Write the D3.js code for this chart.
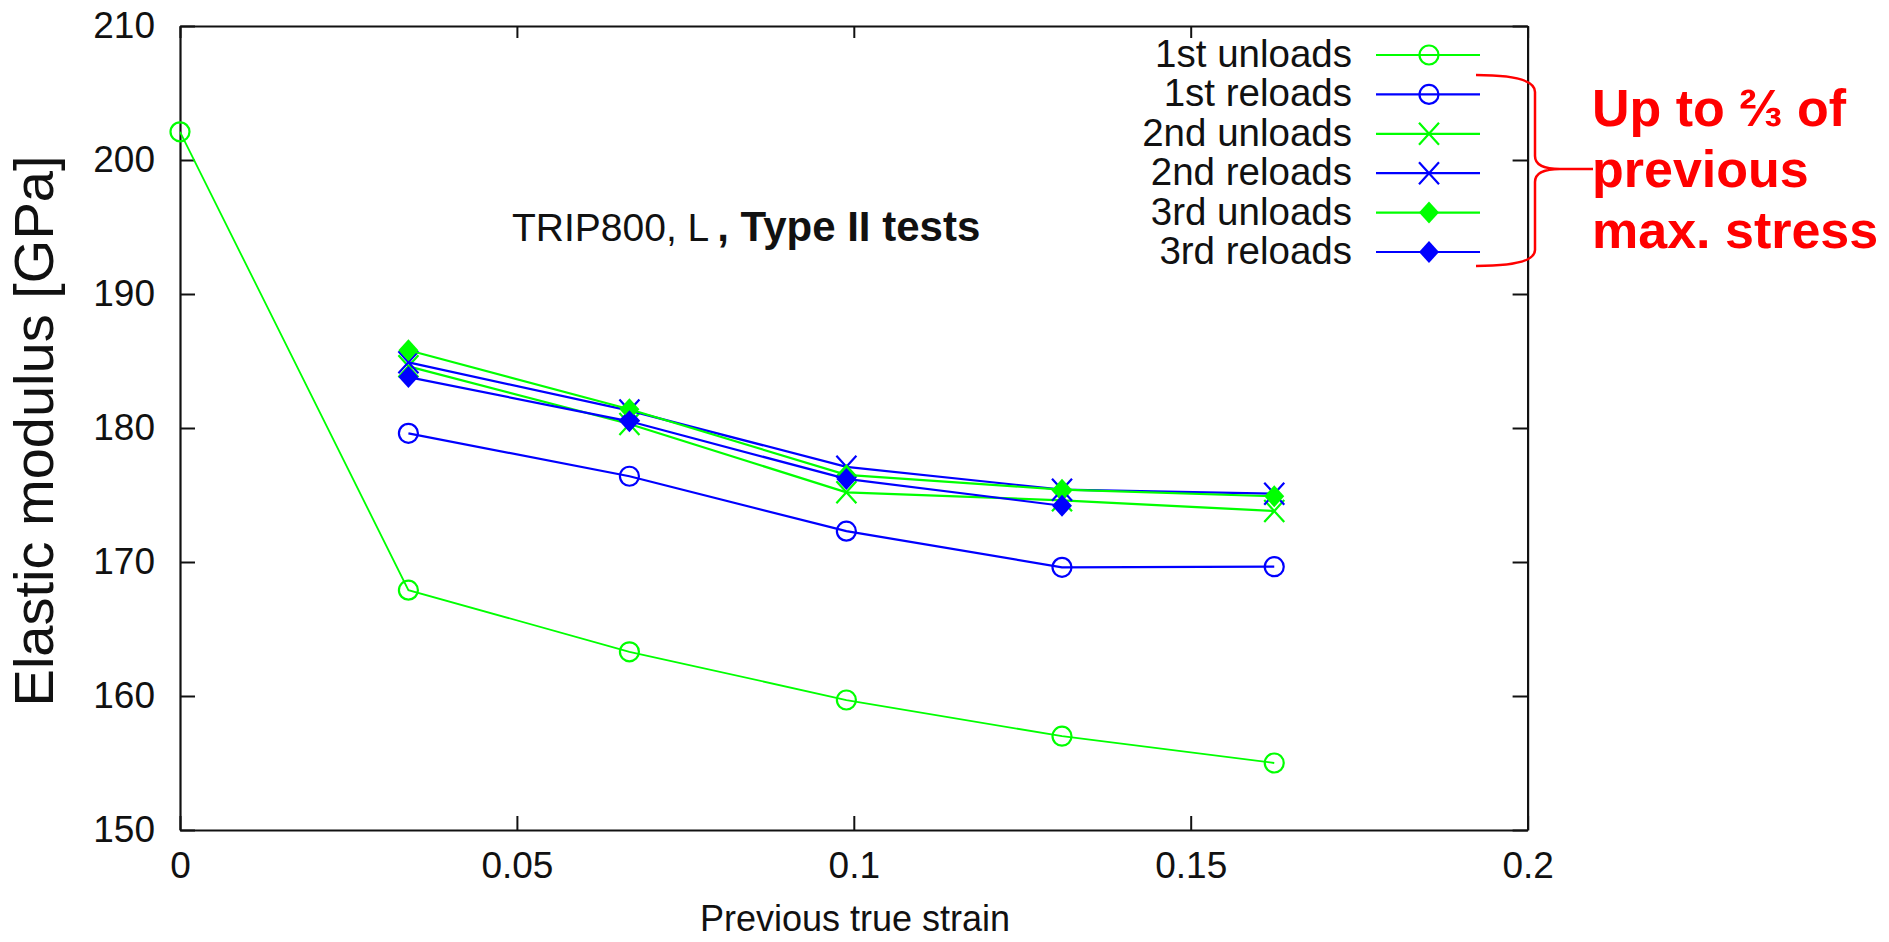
<!DOCTYPE html>
<html>
<head>
<meta charset="utf-8">
<script src="https://cdn.jsdelivr.net/npm/d3@7"></script>
<style>
  body { margin: 0; background: #fff; }
  svg { display: block; font-family: "Liberation Sans", Arial, sans-serif; }
</style>
</head>
<body>
<div id="chart"></div>
<script>
const chartWidth = 1889;
const chartHeight = 942;

// previous true strain of each load step
const strains = [0, 0.0339, 0.0667, 0.0989, 0.1309, 0.1624];
const xTicks = [0, 0.05, 0.1, 0.15, 0.2];
const xTickLabels = ["0", "0.05", "0.1", "0.15", "0.2"];
const yTicks = [150, 160, 170, 180, 190, 200, 210];

// elastic modulus [GPa]
const unload1 = [202.1, 167.9, 163.3, 159.7, 157.0, 155.0];
const reload1 = [179.6, 176.4, 172.3, 169.6, 169.65];
const unload2 = [184.6, 180.3, 175.2, 174.6, 173.8];
const reload2 = [184.9, 181.3, 177.1, 175.4, 175.1];
const unload3 = [185.8, 181.4, 176.5, 175.4, 174.9];
const reload3 = [183.8, 180.5, 176.2, 174.2];

const seriesNames = ["1st unloads", "1st reloads", "2nd unloads", "2nd reloads", "3rd unloads", "3rd reloads"];
const seriesValues = [unload1, reload1, unload2, reload2, unload3, reload3];
const seriesStart = [0, 1, 1, 1, 1, 1];
const seriesColors = ["#00ff00", "#0000ff", "#00ff00", "#0000ff", "#00ff00", "#0000ff"];
const seriesMarkers = ["circle", "circle", "cross", "cross", "diamond", "diamond"];

const annotationLines = ["Up to \u2154 of", "previous", "max. stress"];

const plotLeft = 180, plotRight = 1527.6, plotTop = 26, plotBottom = 830;

const x = d3.scaleLinear().domain([0, 0.2]).range([plotLeft, plotRight]);
const y = d3.scaleLinear().domain([150, 210]).range([plotBottom, plotTop]);

const svg = d3.select("#chart")
  .append("svg")
  .attr("width", chartWidth)
  .attr("height", chartHeight);

// axes, ticks point inward
const styleAxis = g => {
  g.selectAll(".domain").attr("stroke", "#111").attr("stroke-width", 2.2);
  g.selectAll(".tick line").attr("stroke", "#111").attr("stroke-width", 2);
  g.selectAll(".tick text").attr("fill", "#111").style("font-size", "37px");
};

svg.append("g")
  .attr("transform", `translate(0,${plotBottom})`)
  .call(d3.axisBottom(x).tickValues(xTicks).tickSizeInner(-14).tickSizeOuter(0)
    .tickPadding(22).tickFormat((d, i) => xTickLabels[i]))
  .call(styleAxis);

svg.append("g")
  .attr("transform", `translate(0,${plotTop})`)
  .call(d3.axisTop(x).tickValues(xTicks).tickSizeInner(-12).tickSizeOuter(0).tickFormat(""))
  .call(styleAxis);

svg.append("g")
  .attr("transform", `translate(${plotLeft},0)`)
  .call(d3.axisLeft(y).tickValues(yTicks).tickSizeInner(-15).tickSizeOuter(0).tickPadding(25))
  .call(styleAxis);

svg.append("g")
  .attr("transform", `translate(${plotRight},0)`)
  .call(d3.axisRight(y).tickValues(yTicks).tickSizeInner(-15).tickSizeOuter(0).tickFormat(""))
  .call(styleAxis);

// axis titles
svg.append("text")
  .attr("x", 855)
  .attr("y", 931)
  .attr("text-anchor", "middle")
  .style("font-size", "36px")
  .attr("fill", "#111")
  .text("Previous true strain");

svg.append("text")
  .attr("transform", `translate(53,431) rotate(-90)`)
  .attr("text-anchor", "middle")
  .style("font-size", "56px")
  .attr("fill", "#111")
  .text("Elastic modulus [GPa]");

// inner title
const title = svg.append("text")
  .attr("x", 512)
  .attr("y", 241)
  .attr("fill", "#111");
title.append("tspan").style("font-size", "39px").text("TRIP800, L");
title.append("tspan").style("font-size", "42px").attr("font-weight", "bold").attr("dx", 8).text(", Type II tests");

// markers
const drawMarker = (g, type, color) => {
  if (type === "circle") {
    g.append("circle").attr("r", 9.5).attr("fill", "none")
      .attr("stroke", color).attr("stroke-width", 2.2);
  } else if (type === "cross") {
    g.append("path").attr("d", "M-10,-11L10,11M-10,11L10,-11")
      .attr("stroke", color).attr("stroke-width", 2.2).attr("fill", "none");
  } else {
    g.append("path").attr("d", "M0,-11L10,0L0,11L-10,0Z").attr("fill", color);
  }
};

const line = d3.line().x(d => x(d[0])).y(d => y(d[1]));

seriesValues.forEach((vals, i) => {
  const pts = vals.map((v, j) => [strains[j + seriesStart[i]], v]);
  const g = svg.append("g");
  g.append("path")
    .attr("d", line(pts))
    .attr("fill", "none")
    .attr("stroke", seriesColors[i])
    .attr("stroke-width", i === 0 ? 1.8 : 2.2);
  pts.forEach(p => {
    const m = g.append("g").attr("transform", `translate(${x(p[0])},${y(p[1])})`);
    drawMarker(m, seriesMarkers[i], seriesColors[i]);
  });
});

// legend
const legend = svg.append("g");
seriesNames.forEach((name, i) => {
  const ly = 55 + i * 39.4;
  legend.append("text")
    .attr("x", 1352)
    .attr("y", ly + 12)
    .attr("text-anchor", "end")
    .style("font-size", "38.5px")
    .attr("fill", "#111")
    .text(name);
  legend.append("line")
    .attr("x1", 1376).attr("x2", 1480)
    .attr("y1", ly).attr("y2", ly)
    .attr("stroke", seriesColors[i]).attr("stroke-width", 2.2);
  const m = legend.append("g").attr("transform", `translate(1429,${ly})`);
  drawMarker(m, seriesMarkers[i], seriesColors[i]);
});

// red brace and note
svg.append("path")
  .attr("d", "M1476,75 Q1535,75 1535,92 L1535,156 Q1535,169 1560,169 L1593,169 " +
             "M1560,169 Q1535,169 1535,182 L1535,250 Q1535,266 1476,266")
  .attr("fill", "none")
  .attr("stroke", "#ff0000")
  .attr("stroke-width", 2.5);

svg.append("g")
  .selectAll("text")
  .data(annotationLines)
  .enter()
  .append("text")
  .attr("x", 1592)
  .attr("y", (d, i) => 126 + i * 61)
  .attr("fill", "#ff0000")
  .attr("font-weight", "bold")
  .style("font-size", "52px")
  .text(d => d);
</script>
</body>
</html>
